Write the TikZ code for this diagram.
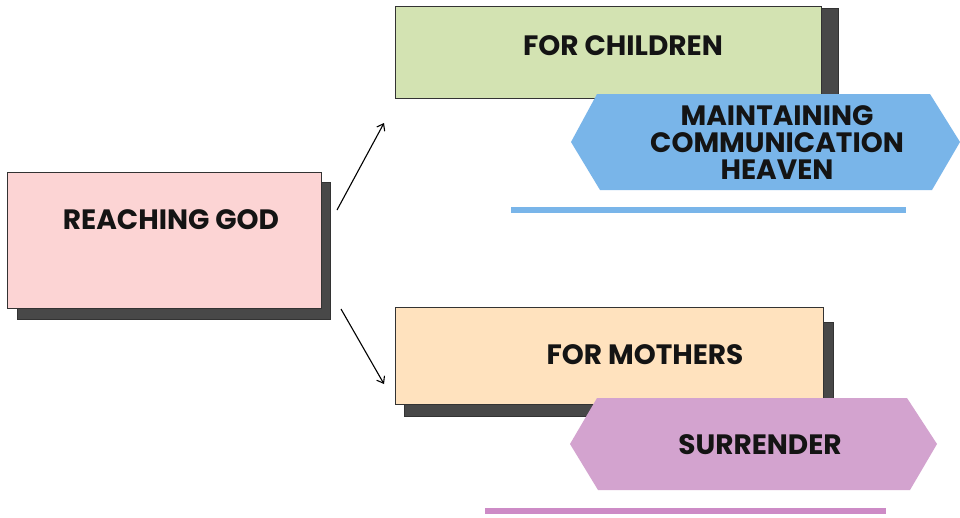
\documentclass[tikz,border=0pt]{standalone}
\usepackage{fontspec}
\setmainfont{Poppins}
\usetikzlibrary{arrows.meta}
\definecolor{pinkbox}{HTML}{FCD4D4}
\definecolor{greenbox}{HTML}{D3E3B2}
\definecolor{peachbox}{HTML}{FFE2BE}
\definecolor{bluehex}{HTML}{79B5E9}
\definecolor{purplehex}{HTML}{D3A3CF}
\definecolor{purpleline}{HTML}{CD8BC6}
\definecolor{shadowc}{HTML}{484848}
\begin{document}
\begin{tikzpicture}[x=1pt,y=-1pt,
  box/.style={draw=black!80, line width=0.8pt, inner sep=0pt, anchor=north west},
  shadowbox/.style={fill=shadowc, draw=black!80, line width=0.5pt, inner sep=0pt, anchor=north west},
  lbl/.style={font=\bfseries\fontsize{28}{27}\selectfont, text=black!92, align=center, inner sep=0pt},
  conn/.style={line width=1.1pt, -{Straight Barb[length=6pt,width=9pt]}}]
\fill[white] (0,0) rectangle (960,517);
\useasboundingbox (0,0) rectangle (960,517);
% Reaching God
\node[shadowbox, minimum width=313, minimum height=137] (rgs) at (17,182) {};
\node[box, fill=pinkbox, minimum width=314, minimum height=136] (rg) at (7,172) {};
\node[lbl] (rgt) at (171,220) {REACHING GOD};
% For children
\node[shadowbox, minimum width=17, minimum height=100] (fcs) at (821,8) {};
\node[box, fill=greenbox, minimum width=426, minimum height=92] (fc) at (395,6) {};
\node[lbl] (fct) at (623,46) {FOR CHILDREN};
% For mothers
\node[shadowbox, minimum width=429, minimum height=94] (fms) at (404,322) {};
\node[box, fill=peachbox, minimum width=428, minimum height=97] (fm) at (395,307) {};
\node[lbl] (fmt) at (645,355) {FOR MOTHERS};
% blue hexagon
\fill[bluehex] (571,142) -- (597,94) -- (930,94) -- (960,142) -- (932,190) -- (600,190) -- cycle;
\node[lbl] (mch) at (777,143) {MAINTAINING\\COMMUNICATION\\HEAVEN};
\fill[bluehex] (511,207) rectangle (906,213);
% purple hexagon
\fill[purplehex] (570,444) -- (597,398) -- (907,398) -- (937,444) -- (910,490) -- (598,490) -- cycle;
\node[lbl] (sur) at (760,445) {SURRENDER};
\fill[purpleline] (485,508) rectangle (886,514);
% arrows
\coordinate (a1s) at (337,210);
\coordinate (a1e) at (384,123);
\coordinate (a2s) at (341,309);
\coordinate (a2e) at (384,384);
\draw[conn] (a1s) -- (a1e);
\draw[conn] (a2s) -- (a2e);
\end{tikzpicture}
\end{document}
